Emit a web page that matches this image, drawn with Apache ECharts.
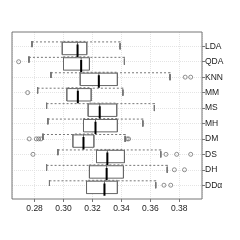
<!DOCTYPE html>
<html><head><meta charset="utf-8">
<script src="https://cdn.jsdelivr.net/npm/echarts@6/dist/echarts.min.js"></script>
<style>html,body{margin:0;padding:0;background:#fff}#c{width:240px;height:240px}</style>
</head><body><div id="c"></div>
<script>
const categories = ['LDA','QDA','KNN','MM','MS','MH','DM','DS','DH','DDα'];
const whiskerLow  = [0.2782,0.2761,0.2913,0.2821,0.2883,0.2892,0.2858,0.2961,0.2883,0.2903];
const q1          = [0.2991,0.3000,0.3115,0.3023,0.3170,0.3138,0.3065,0.3228,0.3179,0.3159];
const median      = [0.3097,0.3122,0.3244,0.3099,0.3250,0.3221,0.3138,0.3303,0.3298,0.3283];
const q3          = [0.3161,0.3179,0.3372,0.3191,0.3368,0.3372,0.3210,0.3421,0.3414,0.3372];
const whiskerHigh = [0.3391,0.3421,0.3736,0.3410,0.3628,0.3548,0.3426,0.3672,0.3717,0.3637];
const outlierValues = [0.2690,0.3841,0.3879,0.2752,0.2763,0.2812,0.2828,0.2844,0.3440,0.3450,0.2789,0.3708,0.3782,0.3879,0.3766,0.3836,0.3694,0.3741];
const outlierGroups = ['QDA','KNN','KNN','MM','DM','DM','DM','DM','DM','DM','DS','DS','DS','DS','DH','DH','DDα','DDα'];
const xMin = 0.2644, xMax = 0.3957;

const font = 'Liberation Sans, Arial, sans-serif';
const frameColor = '#777';
const gridColor = '#e4e4e4';
const boxW = 12.4;

const whiskerData = categories.map((c,i)=>[whiskerLow[i],q1[i],median[i],q3[i],whiskerHigh[i]]);
const lowCapData = categories.map((c,i)=>[whiskerLow[i],whiskerLow[i],whiskerLow[i],whiskerLow[i],whiskerLow[i]]);
const highCapData = categories.map((c,i)=>[whiskerHigh[i],whiskerHigh[i],whiskerHigh[i],whiskerHigh[i],whiskerHigh[i]]);
const boxData = categories.map((c,i)=>[q1[i],q1[i],median[i],q3[i],q3[i]]);
const medData = categories.map((c,i)=>[median[i],median[i],median[i],median[i],median[i]]);
const outData = outlierValues.map((v,i)=>[v,outlierGroups[i]]);

const chart = echarts.init(document.getElementById('c'), null, {renderer:'canvas'});
chart.setOption({
  animation:false,
  backgroundColor:'#fff',
  grid:[
    {left:12, right:38, top:46.3, bottom:54.8, containLabel:false},
    {left:12, right:38, top:32, bottom:41, show:true, borderColor:frameColor, borderWidth:1, backgroundColor:'transparent', z:5}
  ],
  xAxis:[
    {gridIndex:0, type:'value', min:xMin, max:xMax, splitNumber:6, minInterval:0.02, maxInterval:0.02, show:false, splitLine:{show:false}},
    {gridIndex:1, type:'value', min:xMin, max:xMax, splitNumber:6, minInterval:0.02, maxInterval:0.02,
      axisLine:{show:false},
      axisTick:{show:true, length:3, lineStyle:{color:frameColor}},
      axisLabel:{show:true, margin:5, fontSize:8.5, color:'#222', fontFamily:font, showMinLabel:false, showMaxLabel:false,
        formatter:v=>v.toFixed(2)},
      splitLine:{show:true, lineStyle:{color:gridColor, type:'dotted', width:1}}
    }
  ],
  yAxis:[
    {gridIndex:0, type:'category', data:categories, inverse:true, boundaryGap:false, position:'right',
      axisLine:{show:false},
      axisTick:{show:true, length:3, lineStyle:{color:frameColor}},
      axisLabel:{margin:3, fontSize:8.5, color:'#222', fontFamily:font},
      splitLine:{show:true, lineStyle:{color:gridColor, type:'dotted', width:1}}
    },
    {gridIndex:1, type:'value', min:0, max:1, show:false, splitLine:{show:false}}
  ],
  series:[
    {type:'boxplot', xAxisIndex:0, yAxisIndex:0, data:whiskerData, boxWidth:[1,1],
      itemStyle:{color:'transparent', borderColor:'#777', borderWidth:1, borderType:[2,2]}, silent:true},
    {type:'boxplot', xAxisIndex:0, yAxisIndex:0, data:lowCapData, boxWidth:[6,6],
      itemStyle:{color:'transparent', borderColor:'#777', borderWidth:1}, silent:true},
    {type:'boxplot', xAxisIndex:0, yAxisIndex:0, data:highCapData, boxWidth:[6,6],
      itemStyle:{color:'transparent', borderColor:'#777', borderWidth:1}, silent:true},
    {type:'boxplot', xAxisIndex:0, yAxisIndex:0, data:boxData, boxWidth:[boxW,boxW],
      itemStyle:{color:'#fff', borderColor:'#666', borderWidth:1}, silent:true},
    {type:'boxplot', xAxisIndex:0, yAxisIndex:0, data:medData, boxWidth:[boxW,boxW],
      itemStyle:{color:'transparent', borderColor:'#000', borderWidth:2}, silent:true},
    {type:'scatter', xAxisIndex:0, yAxisIndex:0, data:outData, symbol:'circle', symbolSize:4,
      itemStyle:{color:'transparent', borderColor:'#666', borderWidth:0.9}, silent:true}
  ]
});
</script></body></html>
